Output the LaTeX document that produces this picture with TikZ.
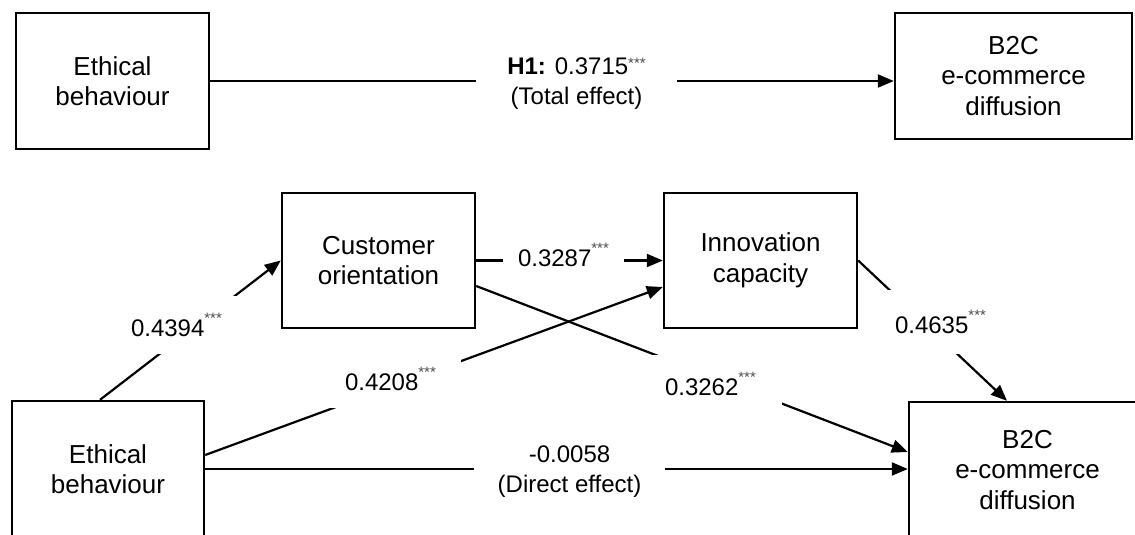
\documentclass[tikz,border=0pt]{standalone}
\usepackage{fontspec}
\setmainfont{Liberation Sans}
\usetikzlibrary{arrows.meta,calc}
\newcommand{\threestar}[1][13.5pt]{\raisebox{#1}{\fontsize{15}{15}\selectfont\color{black!70}***}}
\begin{document}
\begin{tikzpicture}[x=1pt,y=-1pt,
  every node/.style={font=\fontsize{24}{30}\selectfont},
  box/.style={draw, line width=2.4pt, rectangle, align=center, inner sep=0pt, font=\fontsize{26}{30.5}\selectfont},
  conn/.style={line width=2.2pt, -{Triangle[length=16pt,width=13pt]}},
  lbl/.style={fill=white, inner sep=17pt, align=center}]
\useasboundingbox (0,0) rectangle (1135,535);
\clip (0,0) rectangle (1135,535);
% top model
\node[box, minimum width=193pt, minimum height=136pt] (eb1) at (112.5,81) {Ethical\\behaviour};
\node[box, minimum width=237pt, minimum height=126pt] (bc1) at (1013.5,76) {B2C\\e-commerce\\diffusion};
% bottom model
\node[box, minimum width=193pt, minimum height=135pt] (co) at (378.5,260.5) {Customer\\orientation};
\node[box, minimum width=193pt, minimum height=135pt] (ic) at (760.5,260.5) {Innovation\\capacity};
\node[box, minimum width=192pt, minimum height=136pt] (eb2) at (108,469) {Ethical\\behaviour};
\node[box, minimum width=237pt, minimum height=136pt] (bc2) at (1027.5,470) {B2C\\e-commerce\\diffusion};
% connectors
\draw[conn] (eb1.east) -- (eb1.east -| bc1.west);
\draw[conn] ([xshift=-8pt]eb2.north) -- (co.west);
\draw[conn] ([yshift=14pt]eb2.east) -- ([yshift=-26.5pt]ic.west);
\draw[conn] (eb2.east) -- (eb2.east -| bc2.west);
\draw[conn] (co.east) -- (ic.west);
\draw[conn] ([yshift=-25.5pt]co.east) -- ([yshift=18pt]bc2.west);
\draw[conn] (ic.east) -- ([xshift=-20.5pt]bc2.north);
% labels
\node[lbl, inner xsep=31pt, inner ysep=4pt] (l1) at (576.5,84) {\textbf{H1:} 0.3715\threestar[6pt]\\(Total effect)};
\node[lbl, inner xsep=24pt, inner ysep=4pt] (l2) at (569.5,472) {-0.0058\\(Direct effect)};
\node[lbl, anchor=text] (l3) at (131,336.5) {0.4394\threestar};
\node[lbl, anchor=text, inner xsep=25pt, inner ysep=17pt] (l4) at (345,390.5) {0.4208\threestar};
\node[lbl, anchor=text, inner xsep=15pt, inner ysep=4pt] (l5) at (518,266.5) {0.3287\threestar};
\node[lbl, anchor=text, inner xsep=26pt, inner ysep=17pt] (l6) at (665,395.5) {0.3262\threestar};
\node[lbl, anchor=text, inner sep=20pt] (l7) at (895,333.5) {0.4635\threestar};
\end{tikzpicture}
\end{document}
